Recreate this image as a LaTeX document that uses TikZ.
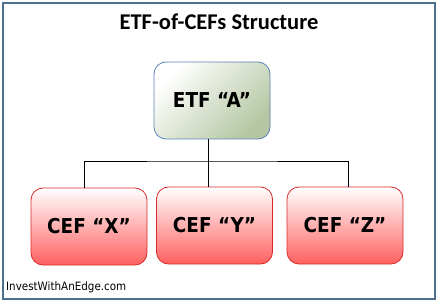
\documentclass[tikz,border=0pt]{standalone}
\usepackage{fontspec}
\setmainfont{DejaVu Sans}
\newfontfamily\titlefont{Carlito}
\newfontfamily\boxfont{DejaVu Sans Condensed}
\usetikzlibrary{positioning}
\definecolor{FrameBlue}{HTML}{4F6F8F}
\definecolor{ETFBorder}{HTML}{5A82B8}
\definecolor{ETFMid}{HTML}{CDDAC1}
\definecolor{ETFGreen}{HTML}{B5C7A2}
\definecolor{CEFBorder}{HTML}{D92B2B}
\definecolor{CEFMid}{HTML}{FFB8B8}
\definecolor{CEFRed}{HTML}{FF6060}

\begin{document}
\begin{tikzpicture}[x=1pt,y=-1pt,
      frame/.style={draw=FrameBlue,line width=1.2pt},
      etfbox/.style={draw=ETFBorder,line width=0.8pt,rounded corners=12pt,top color=white,middle color=ETFMid,bottom color=ETFGreen,shading angle=45,minimum width=116pt,minimum height=77pt,inner sep=0pt,font=\boxfont\fontsize{20.5pt}{22pt}\selectfont\bfseries},
      cefbox/.style={etfbox,draw=CEFBorder,middle color=CEFMid,bottom color=CEFRed},
      link/.style={draw=black,line width=0.8pt}]
      \useasboundingbox (0,0) rectangle (438,304);
      \draw[frame] (3,3) rectangle (435,299);
      \node[font=\titlefont\fontsize{22.5pt}{24pt}\selectfont\bfseries] (title) at (219,22) {ETF-of-CEFs Structure};
      \node[etfbox] (etf) at (212,100.5) {ETF “A”};
      \node[cefbox] (cefx) at (89,226.5) {CEF “X”};
      \node[cefbox] (cefy) at (214.5,225.5) {CEF “Y”};
      \node[cefbox] (cefz) at (345,225.5) {CEF “Z”};
      \coordinate (bus) at (208,161);
      \draw[link] ([xshift=-4pt]etf.south) -- ([xshift=-4pt]etf.south |- cefy.north);
      \draw[link] ([xshift=-5pt]cefx.north) |- (bus) -| ([xshift=3pt]cefz.north);
      \node[anchor=west,inner sep=0pt,font=\boxfont\fontsize{11.5pt}{13pt}\selectfont] (site) at (6,287) {InvestWithAnEdge.com};
    \end{tikzpicture}
\end{document}
